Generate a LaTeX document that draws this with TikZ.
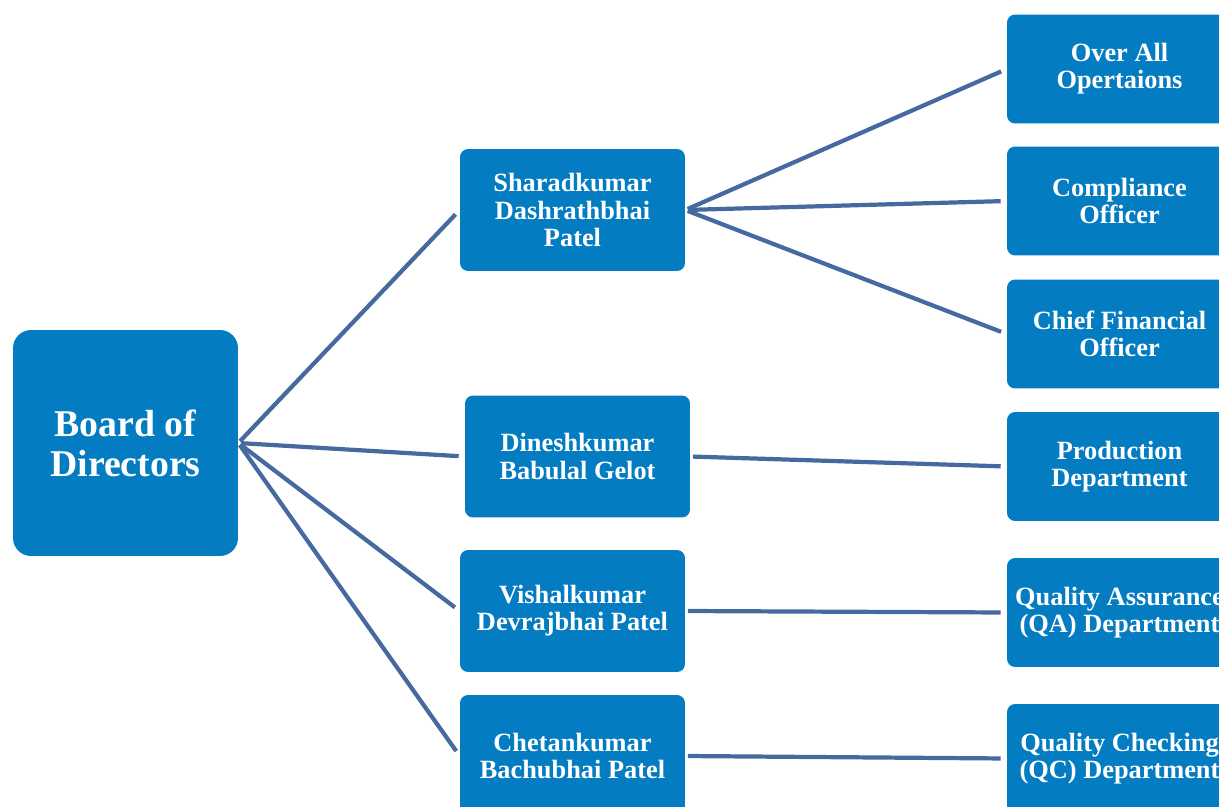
\documentclass[tikz,border=0pt]{standalone}
\usepackage{fontspec}
\setmainfont{Liberation Serif}
\usetikzlibrary{positioning}
\definecolor{boxblue}{RGB}{3,124,194}
\definecolor{linkblue}{RGB}{70,106,160}
\tikzset{
  org box/.style={
    rectangle,
    fill=boxblue,
    draw=none,
    text=white,
    align=center,
    inner sep=0pt
  },
  board node/.style={
    org box,
    rounded corners=0.36cm,
    minimum width=4.5cm,
    minimum height=4.52cm,
    font=\fontsize{21.5}{22.8}\selectfont\bfseries
  },
  member node/.style={
    org box,
    rounded corners=0.16cm,
    minimum width=4.5cm,
    minimum height=2.44cm,
    font=\fontsize{15}{15.4}\selectfont\bfseries
  },
  dept node/.style={
    org box,
    rounded corners=0.16cm,
    minimum width=4.5cm,
    minimum height=2.18cm,
    font=\fontsize{15}{15.4}\selectfont\bfseries
  },
  link/.style={
    draw=linkblue,
    line width=2.4pt,
    shorten <=0.05cm,
    shorten >=0.12cm
  }
}

\begin{document}
\begin{tikzpicture}[x=0.02cm,y=-0.02cm]
  \path[use as bounding box,clip] (0,0) rectangle (1219,807);

  % board
  \node (board) [board node] at (125.5,443) {Board of\\Directors};

  % members of the board
  \node (sharad) [member node] at (572.5,210) {Sharadkumar\\Dashrathbhai\\Patel};
  \node (dinesh) [member node] at (577.5,456.5) {Dineshkumar\\Babulal Gelot};
  \node (vishal) [member node] at (572.5,611) {Vishalkumar\\Devrajbhai Patel};
  \node (chetan) [member node] at (572.5,756) {Chetankumar\\Bachubhai Patel};

  % departments
  \node (operations) [dept node] at (1119.5,69) {Over All\\Opertaions};
  \node (compliance) [dept node] at (1119.5,201) {Compliance\\Officer};
  \node (cfo) [dept node] at (1119.5,334) {Chief Financial\\Officer};
  \node (production) [dept node] at (1119.5,466.5) {Production\\Department};
  \node (qa_dept) [dept node] at (1119.5,612.5) {Quality Assurance\\(QA) Department};
  \node (qc_dept) [dept node] at (1119.5,758.5) {Quality Checking\\(QC) Department};

  % connectors
  \foreach \member in {sharad,dinesh,vishal,chetan}
    \draw[link] (board.east) -- (\member.west);

  \foreach \dept in {operations,compliance,cfo}
    \draw[link] (sharad.east) -- (\dept.west);

  \draw[link] (dinesh.east) -- (production.west);
  \draw[link] (vishal.east) -- (qa_dept.west);
  \draw[link] (chetan.east) -- (qc_dept.west);
\end{tikzpicture}
\end{document}
